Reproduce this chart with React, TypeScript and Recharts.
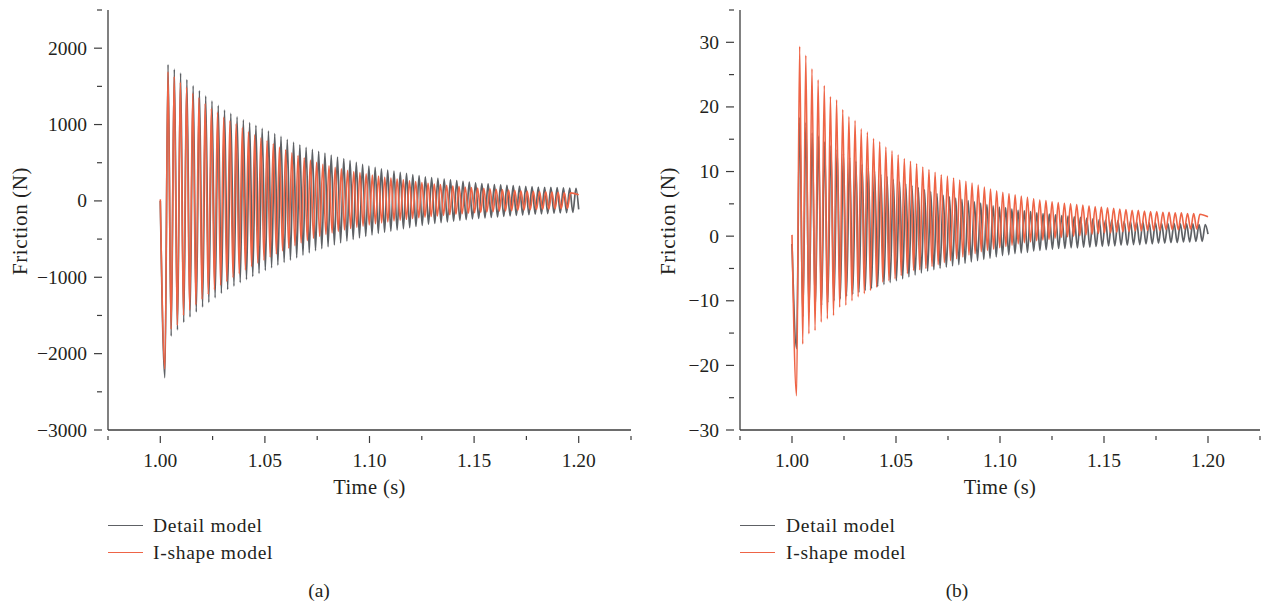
import React from 'react';
import { LineChart, Line, XAxis, YAxis } from 'recharts';

// Fonts and colours
const FONT = '"Liberation Serif", "Times New Roman", serif';
const INK = '#231f20';
const AXIS = '#3d3d3d';
const DETAIL_COLOR = '#5e6165';
const ISHAPE_COLOR = '#ee6446';

const SERIES_NAMES = ['Detail model', 'I-shape model'];

// Axes
const TIME_DOMAIN = [0.975, 1.225];
const TIME_TICKS = [0.975, 1.0, 1.025, 1.05, 1.075, 1.1, 1.125, 1.15, 1.175, 1.2, 1.225];
const FORCE_TICKS_A = [-3000, -2500, -2000, -1500, -1000, -500, 0, 500, 1000, 1500, 2000, 2500];
const FORCE_TICKS_B = [-30, -25, -20, -15, -10, -5, 0, 5, 10, 15, 20, 25, 30, 35];

// Oscillation extrema: the first trough comes at 1.0022 s, then peak/trough alternate every half period
const FIRST_TROUGH_T = 1.0022;
const DETAIL_HALF_PERIOD = 0.0015;
const ISHAPE_HALF_PERIOD = 0.00148;

// (a) friction, N — [value at 1.000 s, value at 1.200 s]
const DETAIL_A_EDGES = [0, -110];
const ISHAPE_A_EDGES = [20, 80];

const DETAIL_A_TROUGHS = [
  -2315, -1770, -1690, -1590, -1520, -1455, -1390, -1330, -1270, -1210, -1160, -1115, -1070, -1030,
  -990, -950, -910, -875, -840, -805, -775, -745, -710, -680, -650, -625, -600, -575, -550, -525,
  -505, -485, -465, -445, -425, -410, -395, -380, -365, -350, -335, -320, -305, -295, -285, -275,
  -265, -255, -245, -235, -228, -222, -215, -208, -202, -196, -190, -185, -180, -175, -170, -166,
  -162, -158, -154, -150,
];
const DETAIL_A_PEAKS = [
  1785, 1725, 1675, 1590, 1510, 1445, 1375, 1310, 1250, 1190, 1145, 1100, 1060, 1025, 990, 950,
  915, 880, 845, 805, 770, 735, 700, 675, 650, 625, 600, 575, 555, 530, 505, 480, 455, 440, 420,
  405, 390, 375, 360, 345, 330, 315, 305, 295, 285, 275, 265, 255, 245, 235, 228, 222, 215, 210,
  205, 200, 195, 191, 186, 182, 179, 176, 173, 170, 168, 165,
];
const ISHAPE_A_TROUGHS = [
  -2200, -1680, -1630, -1500, -1430, -1360, -1290, -1225, -1165, -1105, -1055, -1005, -955, -905,
  -860, -815, -775, -735, -695, -655, -620, -585, -550, -520, -490, -465, -440, -420, -400, -380,
  -362, -345, -330, -315, -300, -287, -275, -263, -252, -241, -231, -221, -212, -204, -196, -189,
  -182, -175, -168, -162, -156, -150, -145, -140, -135, -131, -127, -123, -119, -116, -113, -110,
  -107, -104, -102, -100,
];
const ISHAPE_A_PEAKS = [
  1690, 1630, 1555, 1490, 1410, 1355, 1275, 1210, 1160, 1095, 1050, 1010, 960, 905, 865, 825, 790,
  750, 705, 670, 630, 595, 565, 535, 505, 480, 460, 440, 420, 400, 385, 370, 355, 340, 325, 310,
  298, 285, 275, 262, 252, 242, 232, 222, 214, 206, 198, 190, 183, 176, 170, 164, 158, 153, 148,
  143, 138, 134, 130, 126, 122, 118, 115, 112, 108, 105,
];

// (b) friction, N
const DETAIL_B_EDGES = [-1.2, 0.3];
const ISHAPE_B_EDGES = [0.2, 3.0];

const DETAIL_B_TROUGHS = [
  -17.4, -12.5, -11.8, -11.2, -10.7, -10.3, -10.0, -9.7, -9.3, -9.0, -8.7, -8.4, -8.1, -7.8, -7.5,
  -7.2, -6.9, -6.6, -6.3, -6.0, -5.7, -5.4, -5.2, -5.0, -4.8, -4.6, -4.4, -4.2, -4.0, -3.8, -3.6,
  -3.4, -3.2, -3.0, -2.9, -2.7, -2.6, -2.5, -2.3, -2.2, -2.1, -2.0, -1.9, -1.9, -1.8, -1.8, -1.7,
  -1.7, -1.6, -1.6, -1.5, -1.5, -1.4, -1.4, -1.3, -1.3, -1.2, -1.2, -1.1, -1.1, -1.0, -1.0, -0.9,
  -0.9, -0.8, -0.8,
];
const DETAIL_B_PEAKS = [
  18.4, 17.6, 16.0, 15.5, 14.6, 14.0, 13.4, 12.8, 12.2, 11.6, 11.1, 10.6, 10.1, 9.6, 9.2, 8.8, 8.4,
  8.1, 7.8, 7.5, 7.2, 6.9, 6.6, 6.3, 6.1, 5.9, 5.7, 5.5, 5.3, 5.1, 4.9, 4.7, 4.5, 4.4, 4.2, 4.0,
  3.9, 3.8, 3.6, 3.5, 3.4, 3.3, 3.2, 3.1, 3.0, 2.9, 2.8, 2.7, 2.6, 2.5, 2.5, 2.4, 2.3, 2.3, 2.2,
  2.2, 2.1, 2.1, 2.0, 2.0, 2.0, 1.9, 1.9, 1.9, 1.8, 1.8,
];
const ISHAPE_B_TROUGHS = [
  -24.7, -16.7, -15.1, -14.6, -13.3, -12.8, -12.3, -11.0, -10.7, -10.0, -9.4, -8.9, -8.4, -7.9,
  -7.1, -6.9, -6.6, -6.1, -5.8, -5.3, -5.2, -5.0, -4.7, -4.4, -4.1, -3.8, -3.5, -3.2, -2.9, -2.7,
  -2.4, -2.2, -2.0, -1.8, -1.6, -1.4, -1.2, -1.0, -0.9, -0.7, -0.6, -0.5, -0.3, -0.2, -0.1, 0.0,
  0.1, 0.2, 0.3, 0.4, 0.5, 0.5, 0.6, 0.7, 0.7, 0.8, 0.8, 0.9, 0.9, 0.9, 1.0, 1.0, 1.0, 1.1, 1.1,
  1.1,
];
const ISHAPE_B_PEAKS = [
  29.4, 28.0, 25.9, 24.2, 23.3, 21.6, 21.1, 19.6, 18.5, 17.9, 16.6, 16.1, 15.1, 14.6, 13.8, 13.2,
  12.6, 12.0, 11.6, 11.2, 10.7, 10.3, 9.9, 9.5, 9.3, 9.0, 8.7, 8.5, 8.2, 7.9, 7.6, 7.3, 7.0, 6.8,
  6.6, 6.4, 6.2, 6.0, 5.8, 5.6, 5.5, 5.3, 5.2, 5.1, 5.0, 4.9, 4.8, 4.7, 4.6, 4.5, 4.4, 4.3, 4.2,
  4.1, 4.0, 4.0, 3.9, 3.8, 3.8, 3.7, 3.7, 3.6, 3.6, 3.5, 3.5, 3.4,
];

type Point = { t: number; v: number };

// Interleave troughs and peaks on the time grid, with the start and end samples around them
function buildSeries(edges: number[], troughs: number[], peaks: number[], half: number): Point[] {
  const pts: Point[] = [{ t: 1.0, v: edges[0] }];
  troughs.forEach((tr, k) => {
    pts.push({ t: FIRST_TROUGH_T + 2 * k * half, v: tr });
    pts.push({ t: FIRST_TROUGH_T + (2 * k + 1) * half, v: peaks[k] });
  });
  pts.push({ t: 1.2, v: edges[1] });
  return pts;
}

const fmtForce = (v: number) => (v < 0 ? `\u2212${Math.abs(v)}` : `${v}`);
const isMajorTime = (v: number) => Math.round(v * 1000) % 50 === 0;

const XTick = (props: any) => {
  const { x, y, payload } = props;
  const major = isMajorTime(payload.value);
  return (
    <g>
      <line x1={x} y1={y} x2={x} y2={y + (major ? 7 : 4)} stroke={AXIS} strokeWidth={1.2} />
      {major && (
        <text x={x} y={y + 31} textAnchor="middle" fill={INK} fontSize={19.5} fontFamily={FONT}>
          {payload.value.toFixed(2)}
        </text>
      )}
    </g>
  );
};

const makeYTick = (majorStep: number) => (props: any) => {
  const { x, y, payload } = props;
  const major = payload.value % majorStep === 0;
  return (
    <g>
      <line x1={x} y1={y} x2={x - (major ? 8 : 5)} y2={y} stroke={AXIS} strokeWidth={1.2} />
      {major && (
        <text x={x - 15} y={y + 6.5} textAnchor="end" fill={INK} fontSize={19.5} fontFamily={FONT}>
          {fmtForce(payload.value)}
        </text>
      )}
    </g>
  );
};

interface PanelProps {
  left: number;
  width: number;
  yAxisWidth: number;
  marginRight: number;
  domain: number[];
  ticks: number[];
  majorStep: number;
  detail: Point[];
  ishape: Point[];
  titleX: number;
  legendGap: number;
  captionX: number;
  caption: string;
}

const Panel: React.FC<PanelProps> = ({
  left, width, yAxisWidth, marginRight, domain, ticks, majorStep, detail, ishape,
  titleX, legendGap, captionX, caption,
}) => {
  const plotLeft = left + yAxisWidth;
  const plotWidth = width - yAxisWidth - marginRight;
  const tickCenter = plotLeft + plotWidth * 0.5;
  const colors = [DETAIL_COLOR, ISHAPE_COLOR];
  return (
    <>
      <div style={{ position: 'absolute', left, top: 0 }}>
        <LineChart width={width} height={500} margin={{ top: 10, right: marginRight, bottom: 30, left: 0 }}>
          <XAxis
            dataKey="t"
            type="number"
            domain={TIME_DOMAIN}
            allowDataOverflow
            ticks={TIME_TICKS}
            interval={0}
            height={40}
            tickLine={false}
            tickMargin={0}
            tick={XTick}
            axisLine={{ stroke: AXIS, strokeWidth: 1.3 }}
          />
          <YAxis
            type="number"
            domain={domain}
            allowDataOverflow
            ticks={ticks}
            interval={0}
            width={yAxisWidth}
            tickLine={false}
            tickMargin={0}
            tick={makeYTick(majorStep)}
            axisLine={{ stroke: AXIS, strokeWidth: 1.3 }}
          />
          <Line
            data={detail}
            dataKey="v"
            type="monotone"
            stroke={DETAIL_COLOR}
            strokeWidth={1.7}
            dot={false}
            activeDot={false}
            isAnimationActive={false}
          />
          <Line
            data={ishape}
            dataKey="v"
            type="monotone"
            stroke={ISHAPE_COLOR}
            strokeWidth={1.6}
            dot={false}
            activeDot={false}
            isAnimationActive={false}
          />
        </LineChart>
      </div>

      {/* axis titles */}
      <div
        style={{
          position: 'absolute',
          left: titleX - 80,
          top: 221 - 12,
          width: 160,
          height: 24,
          lineHeight: '24px',
          textAlign: 'center',
          transform: 'rotate(-90deg)',
          fontSize: 21,
          letterSpacing: 0.6,
          whiteSpace: 'nowrap',
          color: INK,
        }}
      >
        Friction (N)
      </div>
      <div
        style={{
          position: 'absolute',
          left: tickCenter - 80,
          top: 475,
          width: 160,
          height: 24,
          lineHeight: '24px',
          textAlign: 'center',
          fontSize: 20.5,
          letterSpacing: 0.4,
          color: INK,
        }}
      >
        Time (s)
      </div>

      {/* legend */}
      <div style={{ position: 'absolute', left: plotLeft, top: 512, width: 300 }}>
        {SERIES_NAMES.map((name, i) => (
          <div key={name} style={{ display: 'flex', alignItems: 'center', height: 27 }}>
            <span style={{ display: 'inline-block', width: 35, borderTop: `1.6px solid ${colors[i]}` }} />
            <span
              style={{
                marginLeft: legendGap,
                whiteSpace: 'nowrap',
                fontSize: 19.5,
                letterSpacing: 0.7,
                color: INK,
              }}
            >
              {name}
            </span>
          </div>
        ))}
      </div>

      {/* caption */}
      <div
        style={{
          position: 'absolute',
          left: captionX - 50,
          top: 579,
          width: 100,
          height: 24,
          lineHeight: '24px',
          textAlign: 'center',
          fontSize: 19.5,
          color: INK,
        }}
      >
        {caption}
      </div>
    </>
  );
};

const detailA = buildSeries(DETAIL_A_EDGES, DETAIL_A_TROUGHS, DETAIL_A_PEAKS, DETAIL_HALF_PERIOD);
const ishapeA = buildSeries(ISHAPE_A_EDGES, ISHAPE_A_TROUGHS, ISHAPE_A_PEAKS, ISHAPE_HALF_PERIOD);
const detailB = buildSeries(DETAIL_B_EDGES, DETAIL_B_TROUGHS, DETAIL_B_PEAKS, DETAIL_HALF_PERIOD);
const ishapeB = buildSeries(ISHAPE_B_EDGES, ISHAPE_B_TROUGHS, ISHAPE_B_PEAKS, ISHAPE_HALF_PERIOD);

export default function App() {
  return (
    <div
      style={{
        position: 'absolute',
        left: 0,
        top: 0,
        width: 1265,
        height: 605,
        background: '#fff',
        fontFamily: FONT,
        overflow: 'hidden',
      }}
    >
      <Panel
        left={0}
        width={640}
        yAxisWidth={108}
        marginRight={9}
        domain={[-3000, 2500]}
        ticks={FORCE_TICKS_A}
        majorStep={1000}
        detail={detailA}
        ishape={ishapeA}
        titleX={20}
        legendGap={10}
        captionX={319}
        caption="(a)"
      />
      <Panel
        left={640}
        width={625}
        yAxisWidth={100}
        marginRight={5}
        domain={[-30, 35]}
        ticks={FORCE_TICKS_B}
        majorStep={10}
        detail={detailB}
        ishape={ishapeB}
        titleX={668}
        legendGap={11}
        captionX={957}
        caption="(b)"
      />
    </div>
  );
}
